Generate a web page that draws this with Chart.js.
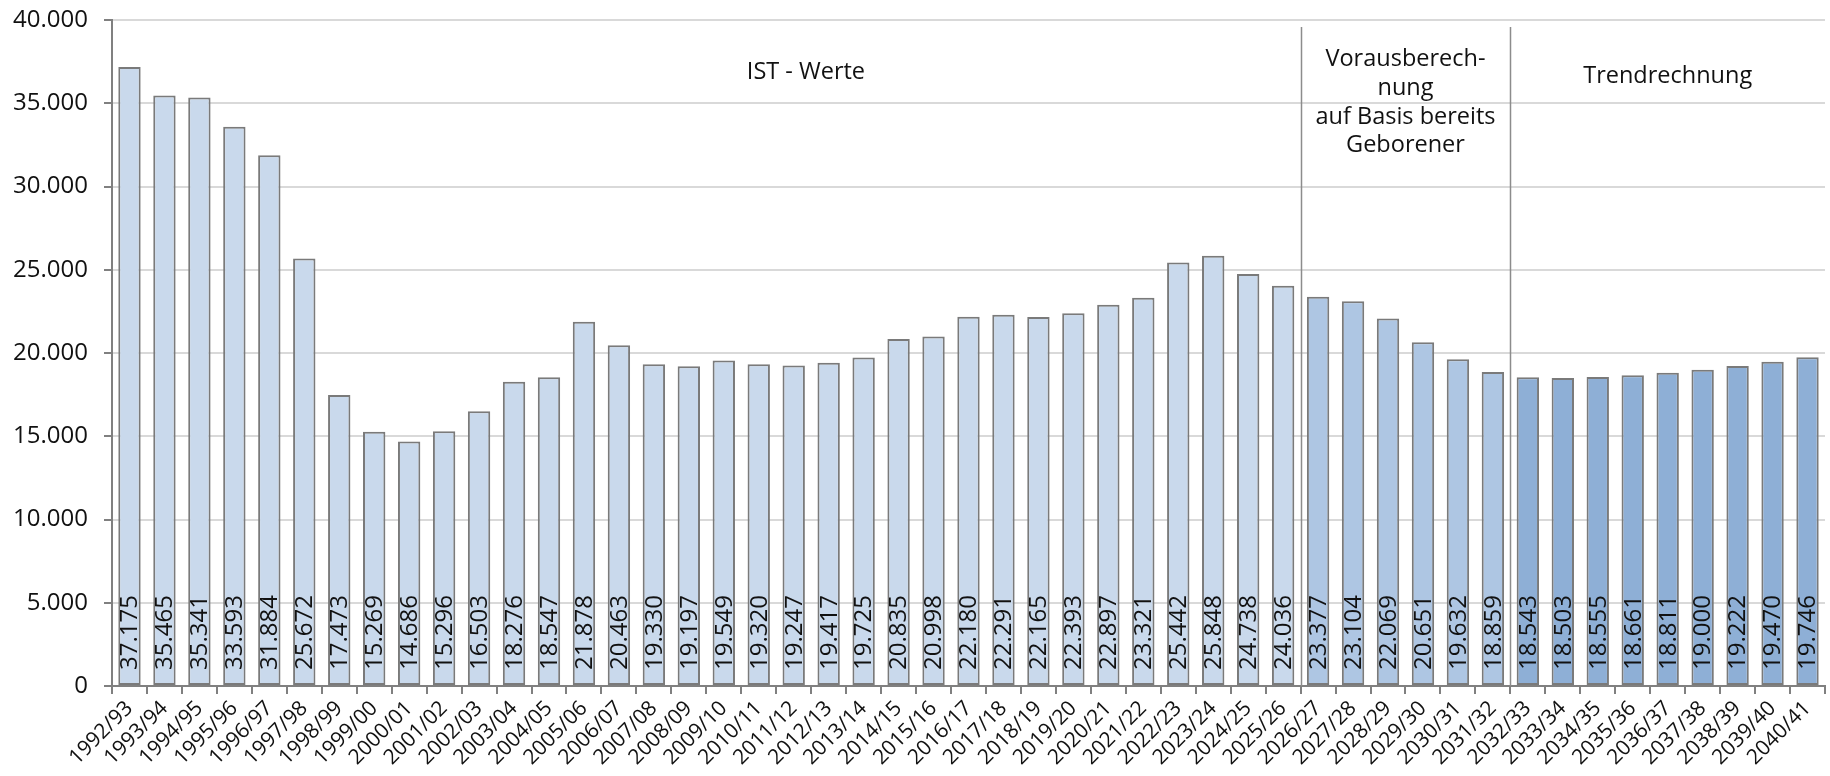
<!DOCTYPE html>
<html>
<head>
<meta charset="utf-8">
<script src="https://cdn.jsdelivr.net/npm/chart.js@4.4.1/dist/chart.umd.min.js"></script>
<style>
  html, body { margin: 0; padding: 0; background: #ffffff; }
  #wrap { width: 1830px; height: 776px; }
</style>
</head>
<body>
<div id="wrap"><canvas id="c" width="1830" height="776"></canvas></div>
<script>
// ---- data ----
const categories = [
  "1992/93","1993/94","1994/95","1995/96","1996/97","1997/98","1998/99","1999/00","2000/01","2001/02",
  "2002/03","2003/04","2004/05","2005/06","2006/07","2007/08","2008/09","2009/10","2010/11","2011/12",
  "2012/13","2013/14","2014/15","2015/16","2016/17","2017/18","2018/19","2019/20","2020/21","2021/22",
  "2022/23","2023/24","2024/25","2025/26",
  "2026/27","2027/28","2028/29","2029/30","2030/31","2031/32",
  "2032/33","2033/34","2034/35","2035/36","2036/37","2037/38","2038/39","2039/40","2040/41"
];
const istWerte = [37175,35465,35341,33593,31884,25672,17473,15269,14686,15296,16503,18276,18547,21878,
  20463,19330,19197,19549,19320,19247,19417,19725,20835,20998,22180,22291,22165,22393,22897,23321,
  25442,25848,24738,24036];
const vorausberechnung = [23377,23104,22069,20651,19632,18859];
const trendrechnung = [18543,18503,18555,18661,18811,19000,19222,19470,19746];
const yTicks = [0,5000,10000,15000,20000,25000,30000,35000,40000];
const sectionLabels = ["IST - Werte", ["Vorausberech-","nung","auf Basis bereits","Geborener"], "Trendrechnung"];

const values = istWerte.concat(vorausberechnung, trendrechnung);
const sectionColors = ["#c9d9ec", "#aec6e3", "#8eafd6"];
const colors = values.map((v, i) =>
  i < istWerte.length ? sectionColors[0] :
  i < istWerte.length + vorausberechnung.length ? sectionColors[1] : sectionColors[2]);

function fmt(n) {
  return String(n).replace(/\B(?=(\d{3})+(?!\d))/g, ".");
}

const FONT = "'Open Sans', 'Noto Sans', sans-serif";

const overlayPlugin = {
  id: 'overlay',
  afterDatasetsDraw(chart) {
    const ctx = chart.ctx;
    const x = chart.scales.x, y = chart.scales.y;
    const meta = chart.getDatasetMeta(0);
    // value labels, rotated
    ctx.save();
    ctx.fillStyle = "#111111";
    ctx.font = "24px " + FONT;
    ctx.textAlign = "left";
    ctx.textBaseline = "middle";
    meta.data.forEach((bar, i) => {
      ctx.save();
      ctx.translate(bar.x + 1, y.getPixelForValue(0) - 16);
      ctx.rotate(-Math.PI / 2);
      ctx.fillText(fmt(values[i]), 0, 0);
      ctx.restore();
    });
    ctx.restore();

    // separators
    const b1 = istWerte.length - 0.5;
    const b2 = istWerte.length + vorausberechnung.length - 0.5;
    ctx.save();
    ctx.strokeStyle = "#8c8c8c";
    ctx.lineWidth = 1.5;
    [b1, b2].forEach(b => {
      const px = Math.round(x.getPixelForValue(b)) + 0.5;
      ctx.beginPath();
      ctx.moveTo(px, 27);
      ctx.lineTo(px, y.getPixelForValue(0));
      ctx.stroke();
    });
    ctx.restore();

    // section labels
    ctx.save();
    ctx.fillStyle = "#111111";
    ctx.font = "23.5px " + FONT;
    ctx.textAlign = "center";
    ctx.textBaseline = "middle";
    ctx.fillText(sectionLabels[0], x.getPixelForValue(19.35), 72);
    const mid2 = (x.getPixelForValue(b1) + x.getPixelForValue(b2)) / 2;
    const l2 = sectionLabels[1];
    const ys = [59, 88, 117, 145.5];
    l2.forEach((t, k) => ctx.fillText(t, mid2, ys[k]));
    const mid3 = (x.getPixelForValue(b2) + x.right) / 2;
    ctx.fillText(sectionLabels[2], mid3, 76);
    ctx.restore();
  }
};

new Chart(document.getElementById('c'), {
  type: 'bar',
  data: {
    labels: categories,
    datasets: [{
      data: values,
      backgroundColor: colors,
      borderColor: "#7a7a7a",
      borderWidth: 2,
      borderSkipped: false,
      categoryPercentage: 1.0,
      barPercentage: 0.64
    }]
  },
  options: {
    responsive: false,
    animation: false,
    devicePixelRatio: 1,
    layout: { padding: { top: 20, right: 5, left: 0, bottom: 0 } },
    plugins: { legend: { display: false }, tooltip: { enabled: false } },
    scales: {
      x: {
        grid: { display: true, drawOnChartArea: false, offset: true, tickLength: 8, color: "#808080", tickColor: "#808080", lineWidth: 2 },
        border: { display: true, color: "#808080", width: 2 },
        ticks: {
          autoSkip: false, maxRotation: 45, minRotation: 45,
          color: "#111111", font: { family: FONT, size: 21 }, padding: 2
        },
        afterFit(s) { s.height = 90; s.paddingLeft = 0; s.paddingRight = 0; }
      },
      y: {
        min: 0, max: 40000,
        afterBuildTicks(s) { s.ticks = yTicks.map(v => ({ value: v })); },
        grid: { color: "#d9d9d9", lineWidth: 2, tickLength: 8, tickColor: "#808080" },
        border: { display: true, color: "#808080", width: 2 },
        ticks: {
          color: "#111111", font: { family: FONT, size: 24 }, padding: 16,
          callback: (v) => fmt(v)
        },
        afterFit(s) { s.width = 112; s.paddingTop = 0; s.paddingBottom = 0; }
      }
    }
  },
  plugins: [overlayPlugin]
});
</script>
</body>
</html>
